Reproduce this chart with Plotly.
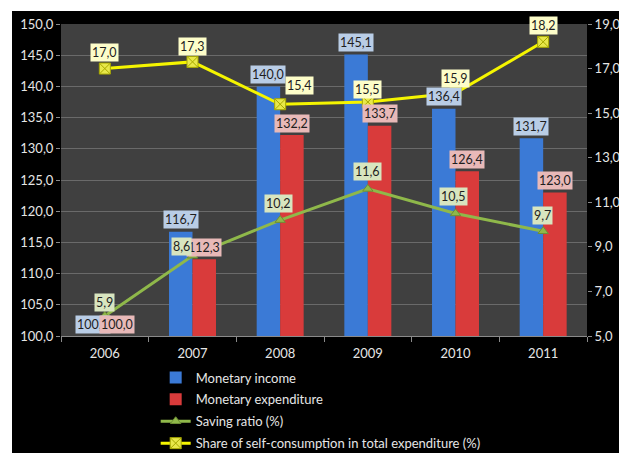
import plotly.graph_objects as go

# Data
years = ["2006", "2007", "2008", "2009", "2010", "2011"]
monetary_income = [100.0, 116.7, 140.0, 145.1, 136.4, 131.7]
monetary_expenditure = [100.0, 112.3, 132.2, 133.7, 126.4, 123.0]
saving_ratio = [5.9, 8.6, 10.2, 11.6, 10.5, 9.7]
self_consumption_share = [17.0, 17.3, 15.4, 15.5, 15.9, 18.2]

# Label offsets (pixels) for the line-series value boxes
saving_dx = [0, -11, -2, 0, -2, -1]
saving_dy = [13, 9, 17, 17, 17, 16]
share_dx = [0, 0, 19, 0, 0, 0]
share_dy = [16, 15, 19, 13, 15, 16]

FONT = "Lato"
TXT = "#e6e6e6"
GRID = "#6a6a6a"
BAR_SHIFT = 11.75


def fmt(v):
    return f"{v:.1f}".replace(".", ",")


fig = go.Figure()

fig.add_trace(go.Bar(
    x=years, y=monetary_income, name="Monetary income",
    marker=dict(color="#3b7ad6", line=dict(width=0)),
    legendgroup="a",
))
fig.add_trace(go.Bar(
    x=years, y=monetary_expenditure, name="Monetary expenditure",
    marker=dict(color="#d93b3b", line=dict(width=0)),
    legendgroup="b",
))
fig.add_trace(go.Scatter(
    x=years, y=saving_ratio, name="Saving ratio (%)", yaxis="y2",
    mode="lines+markers",
    line=dict(color="#8fb84a", width=3),
    marker=dict(symbol="triangle-up", size=9, color="#8fb84a",
                line=dict(color="#6e8f35", width=1)),
    legendgroup="c",
))
fig.add_trace(go.Scatter(
    x=years, y=self_consumption_share,
    name="Share of self-consumption in total expenditure (%)", yaxis="y2",
    mode="lines+markers",
    line=dict(color="#f5f500", width=3),
    marker=dict(symbol="square-x", size=11, color="#e8e84a",
                line=dict(color="#a8a800", width=1)),
    legendgroup="d",
))

annotations = []


def box(i, y, text, bg, yref, dx, dy):
    # i is the category index on the x axis
    annotations.append(dict(
        x=i, y=y, xref="x", yref=yref, text=text, showarrow=False,
        xshift=dx, yshift=dy, bgcolor=bg, borderpad=1,
        font=dict(family=FONT, size=12.5, color="#1e1e1e"),
    ))


for i, v in enumerate(monetary_income):
    box(i, v, fmt(v), "#b9cde6", "y", -BAR_SHIFT, 12)
for i, v in enumerate(monetary_expenditure):
    box(i, v, fmt(v), "#e8b9b8", "y", BAR_SHIFT, 12)
for i, (v, dx, dy) in enumerate(zip(saving_ratio, saving_dx, saving_dy)):
    box(i, v, fmt(v), "#d8e5bf", "y2", dx, dy)
for i, (v, dx, dy) in enumerate(zip(self_consumption_share, share_dx, share_dy)):
    box(i, v, fmt(v), "#fdfdc9", "y2", dx, dy)

fig.update_layout(
    width=619, height=453,
    margin=dict(l=61, r=32, t=24, b=117, autoexpand=False),
    paper_bgcolor="#000000",
    plot_bgcolor="#404040",
    separators=",.",
    barmode="group", bargap=0.464, bargroupgap=0,
    font=dict(family=FONT, size=13, color=TXT),
    showlegend=True,
    legend=dict(
        orientation="v", x=0.18, xanchor="left", y=-0.085, yanchor="top",
        bgcolor="rgba(0,0,0,0)", font=dict(family=FONT, size=13, color=TXT),
        tracegroupgap=2, itemwidth=30,
    ),
    xaxis=dict(
        type="category", range=[-0.5, len(years) - 0.5],
        showgrid=False, showline=True, linecolor="#8a8a8a",
        ticks="outside", tickson="boundaries", ticklen=5, tickcolor="#8a8a8a",
        tickangle=0, ticklabelstandoff=5,
        tickfont=dict(family=FONT, size=13, color=TXT),
    ),
    yaxis=dict(
        range=[100, 150], dtick=5, tick0=100, tickformat=".1f",
        showgrid=True, gridcolor=GRID, gridwidth=1, zeroline=False,
        ticks="outside", ticklen=4, tickcolor="#8a8a8a", showline=False,
        tickfont=dict(family=FONT, size=13, color=TXT),
    ),
    yaxis2=dict(
        range=[5, 19], dtick=2, tick0=5, tickformat=".1f",
        overlaying="y", side="right", showgrid=False, zeroline=False,
        ticks="outside", ticklen=4, tickcolor="#8a8a8a",
        tickfont=dict(family=FONT, size=13, color=TXT),
    ),
    annotations=annotations,
    shapes=[
        dict(type="rect", xref="paper", yref="paper",
             x0=-0.2, x1=1.2, y0=(336 - 11) / 312, y1=1.2,
             fillcolor="#ffffff", line=dict(width=0), layer="below"),
        dict(type="rect", xref="paper", yref="paper",
             x0=-0.2, x1=(12 - 61) / 526, y0=-0.5, y1=1.2,
             fillcolor="#ffffff", line=dict(width=0), layer="below"),
    ],
)

fig.write_html("out.html")
